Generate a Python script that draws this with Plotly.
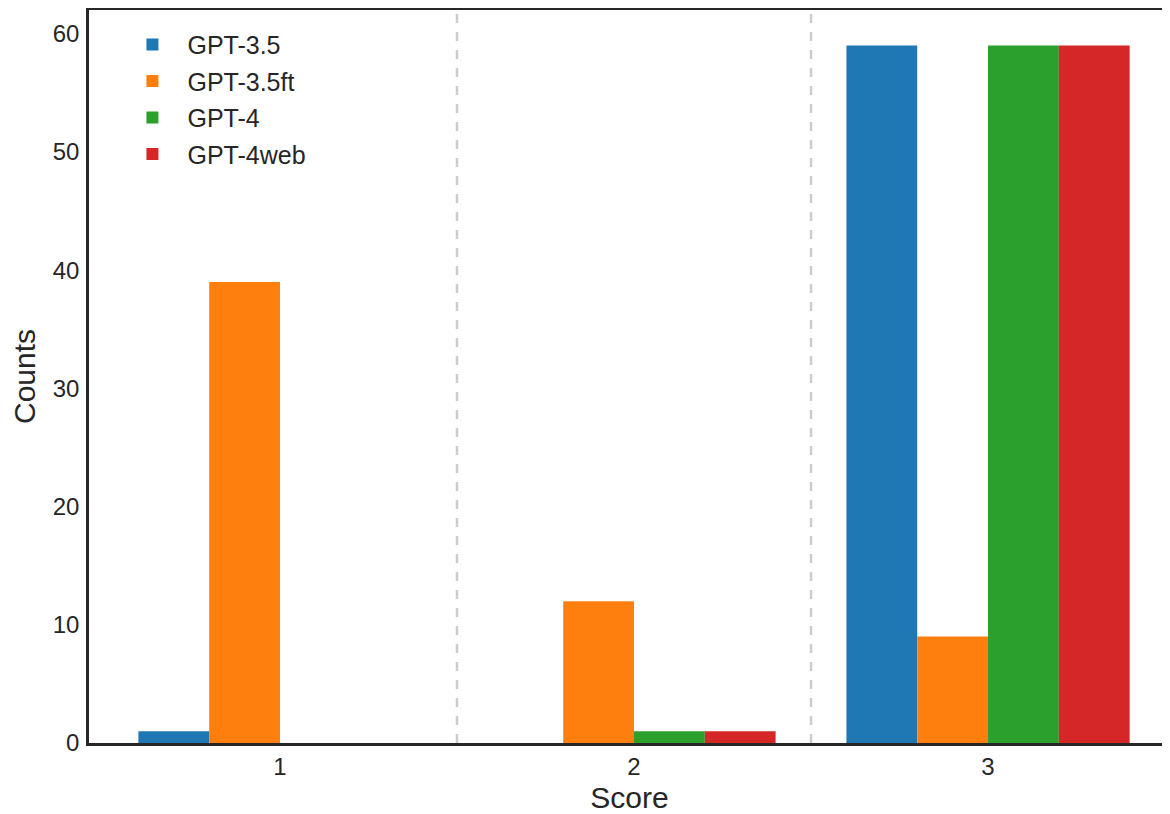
import plotly.graph_objects as go

scores = [1, 2, 3]
models = ["GPT-3.5", "GPT-3.5ft", "GPT-4", "GPT-4web"]
gpt35 = [1, 0, 59]
gpt35ft = [39, 12, 9]
gpt4 = [0, 1, 59]
gpt4web = [0, 1, 59]
colors = ["#1f77b4", "#ff7f0e", "#2ca02c", "#d62728"]
separators = [1.5, 2.5]

series = [gpt35, gpt35ft, gpt4, gpt4web]

fig = go.Figure()
for name, vals, col in zip(models, series, colors):
    fig.add_trace(go.Bar(x=scores, y=vals, name=name, legendgroup=name,
                         marker=dict(color=col, line=dict(width=0))))

for s in separators:
    fig.add_shape(type="line", x0=s, x1=s, y0=0, y1=1, xref="x", yref="paper",
                  line=dict(color="#cccccc", width=2.5, dash="dash"), layer="below")

font = "Liberation Sans, Arial, sans-serif"
fig.update_layout(
    width=1162, height=806,
    margin=dict(l=81, r=0, t=2, b=71),
    plot_bgcolor="white", paper_bgcolor="white",
    barmode="group", bargap=0.2, bargroupgap=0,
    font=dict(family=font, color="#262626", size=24),
    showlegend=True,
    legend=dict(x=0.0263, y=0.984, xanchor="left", yanchor="top",
                bgcolor="rgba(0,0,0,0)", font=dict(size=25), itemwidth=60,
                traceorder="grouped", tracegroupgap=1),
    xaxis=dict(range=[0.4605, 3.514], tickvals=scores, ticktext=[str(s) for s in scores],
               showgrid=False, zeroline=False, showline=True, linecolor="#262626", linewidth=2.5,
               mirror=True, ticks="", tickfont=dict(size=24), automargin=False,
               title=dict(text="Score", font=dict(size=30), standoff=18)),
    yaxis=dict(range=[0, 62], tickvals=[0, 10, 20, 30, 40, 50, 60], showgrid=False, zeroline=False,
               showline=True, linecolor="#262626", linewidth=2.5, ticks="", ticklabelstandoff=2,
               tickfont=dict(size=24), automargin=False,
               title=dict(text="Counts", font=dict(size=30), standoff=19)),
)

fig.write_html("out.html")
